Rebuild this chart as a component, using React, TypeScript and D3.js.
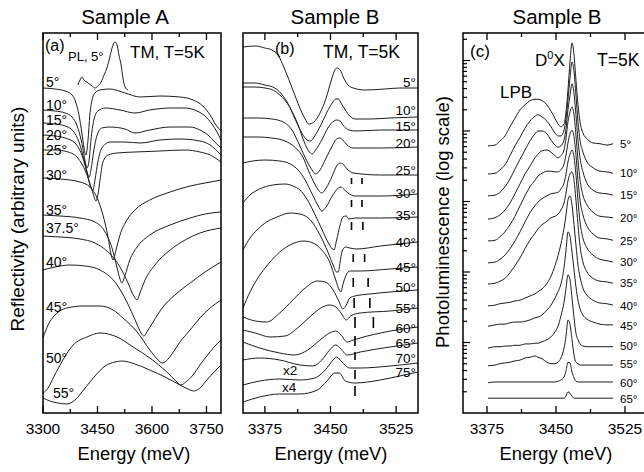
import React from 'react';
import * as d3 from 'd3';

type P = [number, number];

// ---------------- Panel (a): Sample A reflectivity, [energy meV, reflectivity a.u. (offset)] ----------------
const refA05: P[] = [[3300,325],[3333,324],[3361,322],[3380,318],[3391,310],[3399,298],[3407,280],[3413,265],[3418,258],[3424,273],[3429,298],[3435,313],[3443,320],[3457,323],[3484,324],[3526,320],[3567,316],[3622,317],[3677,316],[3713,313],[3740,307],[3760,298],[3776,288],[3790,282]];
const refA10: P[] = [[3300,303],[3333,302],[3361,300],[3380,296],[3394,287],[3405,273],[3413,258],[3418,248],[3421,245],[3427,253],[3432,273],[3440,293],[3451,302],[3471,305],[3512,303],[3553,300],[3594,303],[3650,305],[3691,305],[3724,302],[3746,297],[3765,289],[3779,281],[3790,273]];
const refA15: P[] = [[3300,290],[3333,289],[3361,287],[3383,282],[3399,271],[3413,253],[3421,241],[3427,236],[3432,243],[3440,263],[3449,278],[3462,285],[3484,286],[3526,284],[3553,280],[3594,283],[3650,286],[3705,286],[3732,283],[3754,278],[3773,271],[3790,265]];
const refA20: P[] = [[3300,278],[3333,277],[3361,275],[3388,270],[3407,258],[3421,241],[3432,225],[3438,223],[3443,233],[3451,251],[3462,265],[3484,271],[3526,271],[3567,270],[3622,273],[3677,274],[3732,272],[3760,268],[3790,258]];
const refA25: P[] = [[3300,263],[3333,263],[3369,261],[3396,255],[3418,241],[3435,223],[3446,212],[3451,218],[3457,233],[3465,251],[3479,258],[3504,260],[3553,261],[3622,262],[3691,263],[3732,261],[3760,258],[3790,251]];
const refA30: P[] = [[3300,235],[3347,234],[3402,231],[3429,226],[3449,215],[3465,198],[3479,176],[3487,159],[3493,153],[3501,163],[3512,178],[3531,193],[3553,203],[3594,213],[3650,221],[3705,227],[3746,230],[3790,233]];
const refA35: P[] = [[3300,198],[3347,197],[3402,195],[3443,191],[3471,181],[3490,165],[3504,145],[3512,134],[3517,130],[3526,138],[3539,153],[3559,166],[3594,178],[3650,188],[3705,195],[3746,199],[3790,201]];
const refA375: P[] = [[3300,177],[3347,176],[3402,174],[3443,170],[3479,161],[3512,146],[3534,130],[3550,117],[3559,113],[3567,120],[3581,133],[3608,148],[3650,163],[3691,173],[3732,180],[3790,185]];
const refA40: P[] = [[3300,143],[3333,146],[3374,148],[3416,147],[3457,143],[3498,131],[3531,111],[3556,91],[3570,80],[3578,77],[3586,81],[3603,91],[3628,105],[3663,118],[3705,130],[3746,141],[3790,151]];
const refA45: P[] = [[3300,75],[3314,88],[3333,98],[3366,105],[3410,107],[3457,107],[3493,103],[3520,95],[3559,81],[3594,63],[3617,53],[3628,50],[3639,52],[3655,59],[3677,71],[3705,83],[3732,95],[3760,105],[3790,113]];
const refA50: P[] = [[3300,20],[3314,25],[3328,35],[3347,48],[3383,68],[3421,76],[3457,80],[3504,76],[3548,66],[3594,55],[3641,41],[3666,32],[3680,28],[3693,31],[3713,38],[3732,48],[3751,57],[3771,66],[3790,73]];
const refA55: P[] = [[3300,15],[3319,12],[3341,10],[3366,9],[3388,13],[3416,25],[3443,37],[3471,47],[3498,51],[3517,52],[3553,49],[3594,43],[3636,36],[3677,28],[3699,24],[3716,22],[3732,25],[3751,33],[3771,41],[3790,48]];
const plA5: P[] = [[3396,328],[3402,333],[3407,336],[3413,333],[3424,330],[3435,327],[3443,325],[3451,327],[3460,331],[3468,338],[3476,345],[3484,356],[3490,365],[3495,370],[3498,371],[3504,368],[3509,358],[3515,348],[3520,335],[3526,326],[3534,323]];

const anglesA = ['5°','10°','15°','20°','25°','30°','35°','37.5°','40°','45°','50°','55°'];
const seriesA = [refA05, refA10, refA15, refA20, refA25, refA30, refA35, refA375, refA40, refA45, refA50, refA55];
const ticksA = [3300, 3375, 3450, 3525, 3600, 3675, 3750];
const tickLabelsA = [3300, 3450, 3600, 3750];

// ---------------- Panel (b): Sample B reflectivity ----------------
const refB05: P[] = [[3350,366],[3364,367],[3375,365],[3383,363],[3390,358],[3398,343],[3407,323],[3415,305],[3421,294],[3425,289],[3431,291],[3438,300],[3445,315],[3451,333],[3455,343],[3457,345],[3461,343],[3465,335],[3470,328],[3476,325],[3489,323],[3512,324],[3529,325],[3550,325]];
const refB10: P[] = [[3350,330],[3364,330],[3375,328],[3384,326],[3392,321],[3401,310],[3409,295],[3416,282],[3422,274],[3427,272],[3432,277],[3439,288],[3446,301],[3452,310],[3456,314],[3459,314],[3462,310],[3467,303],[3472,297],[3479,294],[3495,294],[3518,295],[3550,296]];
const refB15: P[] = [[3350,326],[3364,326],[3375,325],[3384,323],[3392,318],[3404,305],[3413,288],[3420,271],[3425,262],[3429,259],[3433,263],[3440,273],[3447,285],[3454,292],[3457,293],[3461,292],[3465,287],[3471,283],[3479,282],[3507,283],[3550,283]];
const refB20: P[] = [[3350,295],[3367,295],[3383,294],[3396,291],[3406,283],[3415,267],[3423,252],[3429,243],[3433,239],[3438,243],[3445,255],[3452,267],[3457,274],[3461,275],[3464,273],[3469,268],[3476,265],[3507,265],[3550,266]];
const refB25: P[] = [[3350,276],[3367,276],[3383,275],[3398,272],[3409,266],[3419,255],[3425,242],[3432,229],[3437,222],[3440,220],[3445,225],[3452,237],[3457,247],[3461,250],[3464,249],[3469,244],[3476,240],[3507,238],[3550,238]];
const refB30: P[] = [[3350,250],[3361,252],[3375,253],[3392,252],[3404,249],[3413,243],[3421,233],[3429,219],[3436,207],[3440,202],[3445,206],[3452,217],[3459,225],[3462,226],[3465,224],[3470,220],[3478,217],[3507,217],[3550,219]];
const refB35: P[] = [[3350,210],[3358,218],[3369,224],[3384,228],[3398,229],[3407,227],[3415,223],[3423,214],[3432,199],[3440,184],[3447,171],[3452,164],[3454,163],[3457,173],[3461,188],[3464,196],[3468,197],[3471,194],[3478,195],[3507,195],[3550,196]];
const refB40: P[] = [[3350,163],[3358,175],[3366,183],[3377,191],[3389,196],[3404,200],[3415,199],[3427,193],[3438,178],[3447,161],[3453,148],[3457,141],[3459,141],[3461,151],[3463,161],[3467,166],[3472,165],[3480,164],[3507,167],[3550,171]];
const refB45: P[] = [[3350,105],[3358,121],[3367,135],[3379,149],[3392,161],[3406,169],[3419,172],[3430,170],[3440,163],[3449,151],[3456,133],[3460,123],[3462,121],[3464,128],[3468,138],[3472,142],[3484,142],[3518,144],[3550,146]];
const refB50: P[] = [[3350,96],[3364,92],[3377,91],[3392,100],[3407,113],[3421,125],[3435,132],[3444,131],[3453,123],[3460,111],[3464,104],[3468,108],[3472,115],[3478,117],[3495,119],[3550,123]];
const refB55: P[] = [[3350,83],[3364,80],[3381,76],[3398,77],[3415,87],[3430,99],[3441,106],[3449,108],[3456,106],[3462,100],[3468,93],[3473,97],[3484,100],[3518,102],[3550,105]];
const refB60: P[] = [[3350,71],[3369,65],[3392,60],[3409,58],[3424,63],[3438,73],[3449,80],[3456,82],[3462,78],[3469,71],[3476,73],[3507,80],[3550,86]];
const refB65: P[] = [[3350,53],[3369,55],[3392,53],[3415,48],[3430,47],[3440,53],[3449,63],[3456,68],[3462,64],[3469,58],[3484,61],[3518,66],[3550,70]];
const refB70: P[] = [[3350,28],[3369,32],[3392,34],[3415,33],[3432,35],[3444,43],[3453,53],[3457,56],[3463,51],[3472,45],[3484,45],[3518,47],[3550,50]];
const refB75: P[] = [[3350,11],[3369,16],[3392,19],[3415,19],[3435,23],[3446,32],[3455,40],[3460,40],[3467,32],[3478,30],[3507,33],[3529,37],[3550,41]];

const anglesB = ['5°','10°','15°','20°','25°','30°','35°','40°','45°','50°','55°','60°','65°','70°','75°'];
const seriesB = [refB05, refB10, refB15, refB20, refB25, refB30, refB35, refB40, refB45, refB50, refB55, refB60, refB65, refB70, refB75];
// weak modes marked in (b): energies and reflectivity span of each marker
const modeEnergy1 = [3474, 3474, 3474, 3476, 3476, 3477, 3478];
const modeEnergy2 = [3486, 3486, 3487, 3489, 3493, 3495, 3499];
const modeLow = [229, 206, 183, 151, 126, 105, 85];
const modeHigh = [235, 213, 191, 159, 135, 115, 96];
const dashEnergy = 3478;
const dashLow = [67, 53, 34, 17];
const dashHigh = [77, 61, 43, 27];
const ticksBC = [3375, 3412.5, 3450, 3487.5, 3525];
const tickLabelsBC = [3375, 3450, 3525];

// ---------------- Panel (c): Sample B photoluminescence (log10 intensity) ----------------
const plEnergy = [3376.1,3383.7,3389.1,3394.6,3400.0,3405.4,3410.9,3416.3,3421.7,3427.2,3430.4,3434.8,3440.2,3444.6,3448.9,3452.2,3455.4,3458.7,3460.9,3463.0,3465.2,3467.4,3469.6,3471.7,3473.9,3476.1,3479.3,3483.7,3490.2,3497.8,3505.4,3512.0];
const pl05 = [3.79,3.80,3.86,3.93,4.06,4.18,4.30,4.37,4.43,4.45,4.45,4.43,4.37,4.28,4.18,4.10,4.06,4.10,4.27,4.58,4.98,5.25,5.08,4.72,4.37,4.13,3.97,3.89,3.83,3.82,3.80,3.82];
const pl10 = [3.39,3.40,3.45,3.52,3.65,3.79,3.91,4.04,4.14,4.21,4.23,4.20,4.14,4.06,3.97,3.93,3.93,4.01,4.18,4.44,4.75,4.98,4.84,4.51,4.13,3.87,3.70,3.56,3.48,3.43,3.42,3.40];
const pl15 = [3.08,3.09,3.13,3.21,3.32,3.46,3.60,3.73,3.86,3.96,4.00,4.00,3.96,3.87,3.80,3.77,3.79,3.87,4.04,4.30,4.50,4.67,4.53,4.23,3.87,3.62,3.42,3.26,3.16,3.12,3.11,3.09];
const pl20 = [2.75,2.77,2.81,2.88,2.98,3.11,3.25,3.39,3.50,3.62,3.67,3.72,3.73,3.70,3.65,3.62,3.65,3.73,3.90,4.13,4.27,4.34,4.23,3.94,3.59,3.31,3.09,2.95,2.85,2.79,2.78,2.77];
const pl25 = [2.44,2.45,2.50,2.57,2.67,2.79,2.94,3.08,3.21,3.30,3.36,3.40,3.43,3.43,3.42,3.42,3.45,3.53,3.66,3.83,3.96,4.01,3.92,3.66,3.30,3.02,2.81,2.65,2.54,2.48,2.47,2.45];
const pl30 = [2.13,2.14,2.18,2.24,2.33,2.44,2.57,2.71,2.84,2.94,2.99,3.04,3.08,3.11,3.12,3.13,3.18,3.26,3.39,3.56,3.67,3.73,3.63,3.38,3.02,2.71,2.48,2.34,2.24,2.18,2.16,2.14];
const pl35 = [1.83,1.84,1.87,1.91,1.99,2.09,2.20,2.33,2.45,2.55,2.61,2.67,2.72,2.77,2.79,2.82,2.88,2.98,3.12,3.29,3.39,3.42,3.30,3.02,2.67,2.37,2.14,2.00,1.91,1.87,1.86,1.84];
const pl40 = [1.52,1.53,1.55,1.56,1.57,1.59,1.60,1.63,1.66,1.69,1.72,1.76,1.84,1.94,2.09,2.23,2.40,2.62,2.81,3.02,3.08,2.95,2.67,2.38,2.10,1.93,1.77,1.67,1.60,1.56,1.55,1.53];
const pl45 = [1.23,1.25,1.26,1.26,1.28,1.29,1.29,1.30,1.32,1.35,1.36,1.39,1.46,1.53,1.63,1.72,1.83,2.06,2.31,2.57,2.51,2.28,2.03,1.79,1.60,1.48,1.39,1.33,1.29,1.26,1.25,1.25];
const pl50 = [0.92,0.94,0.94,0.95,0.95,0.96,0.96,0.98,0.98,0.99,0.99,1.01,1.04,1.08,1.15,1.23,1.38,1.57,1.77,1.96,1.89,1.63,1.35,1.13,1.04,0.98,0.95,0.94,0.94,0.94,0.94,0.94];
const pl55 = [0.67,0.68,0.70,0.71,0.72,0.74,0.75,0.78,0.79,0.81,0.79,0.77,0.72,0.70,0.70,0.72,0.78,0.92,1.09,1.32,1.26,1.04,0.82,0.72,0.70,0.68,0.68,0.68,0.68,0.68,0.68,0.68];
const pl60 = [0.43,0.44,0.44,0.44,0.44,0.44,0.44,0.44,0.44,0.44,0.44,0.44,0.44,0.44,0.44,0.45,0.47,0.51,0.60,0.72,0.71,0.58,0.50,0.45,0.44,0.44,0.44,0.44,0.44,0.44,0.44,0.44];
const pl65 = [0.21,0.21,0.21,0.21,0.21,0.21,0.21,0.21,0.21,0.21,0.21,0.21,0.21,0.21,0.21,0.21,0.21,0.21,0.24,0.30,0.28,0.24,0.21,0.21,0.21,0.21,0.21,0.21,0.21,0.21,0.21,0.21];
const anglesC = ['5°','10°','15°','20°','25°','30°','35°','40°','45°','50°','55°','60°','65°'];
const seriesC = [pl05, pl10, pl15, pl20, pl25, pl30, pl35, pl40, pl45, pl50, pl55, pl60, pl65];

// ---------------- layout (pixels) ----------------
const TOP = 33, BOT = 413;
const labelPosA: P[] = [[46,87],[46,110],[46,125],[46,140],[46,155],[46,180],[46,215],[46,233],[46,267],[46,312],[46,363],[53,398]];
const labelYB = [87,115,131,148,175,198,220,247,272,292,313,333,348,363,377];
const labelYC = [148,177,199,222,245,266,287,310,330,350,368,387,403];

const FONT = "'Liberation Sans', Arial, Helvetica, sans-serif";
const INK = '#1d1d1d';

export default function App() {
  const xA = d3.scaleLinear().domain([3300, 3790]).range([43, 221]);
  const yR = d3.scaleLinear().domain([0, 380]).range([BOT, TOP]);
  const xB = d3.scaleLinear().domain([3350, 3550]).range([243, 418]);
  const xC = d3.scaleLinear().domain([3350, 3550]).range([464, 648]);
  const yC = d3.scaleLog().domain([1, Math.pow(10, 5.39)]).range([BOT, TOP]);

  const lineA = d3.line<P>().x(d => xA(d[0])).y(d => yR(d[1])).curve(d3.curveMonotoneX);
  const lineB = d3.line<P>().x(d => xB(d[0])).y(d => yR(d[1])).curve(d3.curveMonotoneX);
  const lineC = d3.line<number>().x((_, i) => xC(plEnergy[i])).y(d => yC(Math.pow(10, d))).curve(d3.curveMonotoneX);

  const xTicks = (sc: (v: number) => number, vals: number[], isMajor: (v: number) => boolean, key: string) =>
    vals.map(v => {
      const x = sc(v);
      const L = isMajor(v) ? 7 : 4;
      return (
        <g key={key + v}>
          <line x1={x} x2={x} y1={BOT} y2={BOT - L} stroke="#000" strokeWidth={1.3} />
          <line x1={x} x2={x} y1={TOP} y2={TOP + L} stroke="#000" strokeWidth={1.3} />
        </g>
      );
    });

  const tickLabels = (sc: (v: number) => number, vals: number[], key: string) =>
    vals.map(v => (
      <text key={key + v} x={sc(v)} y={434} textAnchor="middle" fontSize={15.5}>{v}</text>
    ));

  // log ticks for panel (c)
  const logTicks: { v: number; major: boolean }[] = [];
  for (let k = 0; k <= 5; k++) {
    for (let m = 1; m <= 9; m++) {
      const v = m * Math.pow(10, k);
      if (v > 1 && v < Math.pow(10, 5.39)) logTicks.push({ v, major: m === 1 });
    }
  }

  return (
    <svg width={644} height={472} style={{ position: 'absolute', left: 0, top: 0, background: '#fff' }}
      fontFamily={FONT} fill="#000">
      <rect x={0} y={0} width={644} height={472} fill="#fff" />

      {/* titles */}
      <text x={125} y={24} textAnchor="middle" fontSize={20.5}>Sample A</text>
      <text x={335} y={24} textAnchor="middle" fontSize={20.5}>Sample B</text>
      <text x={557} y={24} textAnchor="middle" fontSize={20.5}>Sample B</text>

      {/* axis titles */}
      <text transform="translate(24,219) rotate(-90)" textAnchor="middle" fontSize={19}>Reflectivity (arbitrary units)</text>
      <text transform="translate(449,222) rotate(-90)" textAnchor="middle" fontSize={18.5}>Photoluminescence (log scale)</text>
      <text x={134} y={460} textAnchor="middle" fontSize={18.3}>Energy (meV)</text>
      <text x={331} y={460} textAnchor="middle" fontSize={18.3}>Energy (meV)</text>
      <text x={556} y={460} textAnchor="middle" fontSize={18.3}>Energy (meV)</text>

      {/* ---------- panel (a) ---------- */}
      <g fill="none" stroke={INK} strokeWidth={1}>
        {seriesA.map((s, i) => <path key={'a' + i} d={lineA(s) || ''} />)}
        <path d={lineA(plA5) || ''} />
      </g>
      {anglesA.map((a, i) => (
        <text key={'la' + i} x={labelPosA[i][0]} y={labelPosA[i][1]} fontSize={14}>{a}</text>
      ))}
      <text x={45} y={51} fontSize={16}>(a)</text>
      <text x={68} y={61} fontSize={13}>PL, 5°</text>
      <text x={130} y={58} fontSize={17}>TM, T=5K</text>
      {xTicks(xA, ticksA, v => (v - 3300) % 150 === 0, 'ta')}
      {tickLabels(xA, tickLabelsA, 'tla')}
      <rect x={43} y={TOP} width={178} height={BOT - TOP} fill="none" stroke="#000" strokeWidth={1.5} />

      {/* ---------- panel (b) ---------- */}
      <g fill="none" stroke={INK} strokeWidth={1}>
        {seriesB.map((s, i) => <path key={'b' + i} d={lineB(s) || ''} />)}
      </g>
      <g stroke="#000" strokeWidth={1.6}>
        {modeEnergy1.map((e, i) => (
          <g key={'m' + i}>
            <line x1={xB(e)} x2={xB(e)} y1={yR(modeLow[i])} y2={yR(modeHigh[i])} />
            <line x1={xB(modeEnergy2[i])} x2={xB(modeEnergy2[i])} y1={yR(modeLow[i])} y2={yR(modeHigh[i])} />
          </g>
        ))}
        {dashLow.map((lo, i) => (
          <line key={'d' + i} x1={xB(dashEnergy)} x2={xB(dashEnergy)} y1={yR(lo)} y2={yR(dashHigh[i])} />
        ))}
      </g>
      {anglesB.map((a, i) => (
        <text key={'lb' + i} x={416} y={labelYB[i]} textAnchor="end" fontSize={13.5}>{a}</text>
      ))}
      <text x={283} y={375} fontSize={13.5}>x2</text>
      <text x={282} y={392} fontSize={13.5}>x4</text>
      <text x={275} y={54} fontSize={16}>(b)</text>
      <text x={323} y={58} fontSize={17.5}>TM, T=5K</text>
      {xTicks(xB, ticksBC, v => v % 75 === 0, 'tb')}
      {tickLabels(xB, tickLabelsBC, 'tlb')}
      <rect x={243} y={TOP} width={175} height={BOT - TOP} fill="none" stroke="#000" strokeWidth={1.5} />

      {/* ---------- panel (c) ---------- */}
      <g fill="none" stroke={INK} strokeWidth={1}>
        {seriesC.map((s, i) => <path key={'c' + i} d={lineC(s) || ''} />)}
      </g>
      {anglesC.map((a, i) => (
        <text key={'lc' + i} x={620} y={labelYC[i]} fontSize={11.5}>{a}</text>
      ))}
      <text x={470} y={57} fontSize={17}>(c)</text>
      <text x={535} y={66} fontSize={17}>D<tspan dy={-7} fontSize={11}>0</tspan><tspan dy={7}>X</tspan></text>
      <text x={597} y={66} fontSize={17.5}>T=5K</text>
      <text x={500} y={98} fontSize={17}>LPB</text>
      {xTicks(xC, ticksBC, v => v % 75 === 0, 'tc')}
      {tickLabels(xC, tickLabelsBC, 'tlc')}
      <g stroke="#000" strokeWidth={1.2}>
        {logTicks.map((t, i) => (
          <line key={'lt' + i} x1={463} x2={463 + (t.major ? 7 : 4)} y1={yC(t.v)} y2={yC(t.v)} />
        ))}
      </g>
      <rect x={463} y={TOP} width={190} height={BOT - TOP} fill="none" stroke="#000" strokeWidth={1.5} />
    </svg>
  );
}
